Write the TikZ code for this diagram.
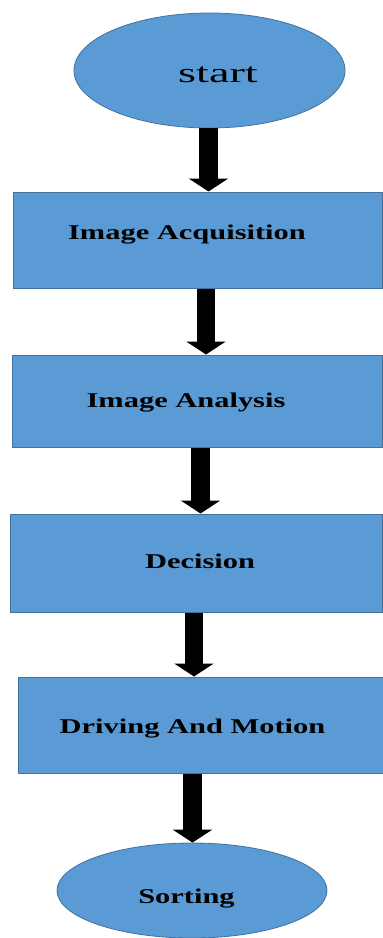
\documentclass[tikz,border=0pt]{standalone}
\usepackage{fontspec}
\usepackage{graphicx}
\setmainfont{Liberation Serif}
% wide serif faces for the labels
\newfontfamily\labelserif[FakeStretch=1.45]{Liberation Serif}
\newfontfamily\startserif[FakeStretch=1.65]{Liberation Serif}
\usetikzlibrary{shapes.geometric,arrows.meta}
\definecolor{boxfill}{RGB}{91,155,213}
\definecolor{boxline}{RGB}{65,113,156}
\begin{document}
\begin{tikzpicture}[x=1pt,y=-1pt,
  terminal/.style={ellipse, draw=boxline, fill=boxfill, line width=0.8pt, inner sep=0pt},
  process/.style={rectangle, draw=boxline, fill=boxfill, line width=1pt, inner sep=0pt},
  caption/.style={font=\labelserif\bfseries\fontsize{21}{25}\selectfont, inner sep=0pt, anchor=base},
  flow/.style={line width=18.5pt, -{Triangle[width=39pt,length=13pt]}}]
\useasboundingbox[fill=white] (0,0) rectangle (383,938);

% shapes
\node[terminal, minimum width=271pt, minimum height=115pt] (start) at (209.5,70.5) {};
\node[process, minimum width=369pt, minimum height=96pt] (acq) at (197.5,240) {};
\node[process, minimum width=370pt, minimum height=92pt] (ana) at (197,401) {};
\node[process, minimum width=372pt, minimum height=98pt] (dec) at (196,563) {};
\node[process, minimum width=365pt, minimum height=96pt] (drv) at (200.5,725) {};
\node[terminal, minimum width=270pt, minimum height=95pt] (sort) at (192,890.5) {};

% labels
\node[inner sep=0pt, anchor=base, font=\startserif\fontsize{28}{32}\selectfont] (tstart) at (218,82) {start};
\node[caption] (tacq) at (187,239) {Image Acquisition};
\node[caption] (tana) at (186,407) {Image Analysis};
\node[caption] (tdec) at (200,568) {Decision};
\node[caption] (tdrv) at (192.5,733) {Driving And Motion};
\node[caption] (tsort) at (186.5,903) {Sorting};

% block arrows
\draw[flow] (208.5,0 |- start.south) -- (208.5,0 |- acq.north);
\draw[flow] (206,0 |- acq.south) -- (206,0 |- ana.north);
\draw[flow] (200.5,0 |- ana.south) -- (200.5,0 |- dec.north);
\draw[flow] (194,0 |- dec.south) -- (194,0 |- drv.north);
\draw[flow] (192.5,0 |- drv.south) -- (192.5,0 |- sort.north);
\end{tikzpicture}
\end{document}
